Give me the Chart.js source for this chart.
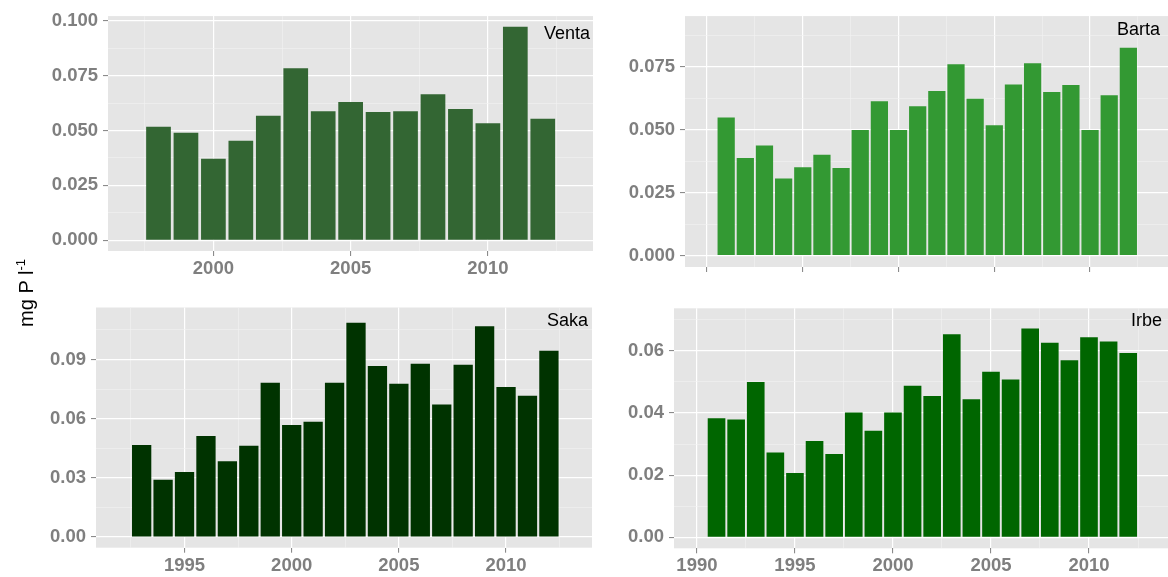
<!DOCTYPE html>
<html>
<head>
<meta charset="utf-8">
<script src="https://cdn.jsdelivr.net/npm/chart.js@4.4.0/dist/chart.umd.min.js"></script>
<style>
  html, body { margin: 0; padding: 0; background: #ffffff; }
  body { width: 1168px; height: 577px; position: relative; overflow: hidden; font-family: "Liberation Sans", Arial, sans-serif; }
  canvas { position: absolute; }
  #ytitle { position: absolute; left: -29px; top: 281px; width: 100px; height: 24px; line-height: 24px; text-align: center;
            transform: rotate(-90deg); font-size: 20px; color: #000; white-space: nowrap; }
  #ytitle sup { font-size: 13px; }
</style>
</head>
<body>
<canvas id="venta" width="600" height="290" style="left:0;top:0"></canvas>
<canvas id="barta" width="568" height="290" style="left:600px;top:0"></canvas>
<canvas id="saka" width="600" height="287" style="left:0;top:290px"></canvas>
<canvas id="irbe" width="568" height="287" style="left:600px;top:290px"></canvas>
<div id="ytitle">mg P l<sup>-1</sup></div>
<script>
// ---- data ----
const ventaYears  = [1998,1999,2000,2001,2002,2003,2004,2005,2006,2007,2008,2009,2010,2011,2012];
const ventaValues = [0.0517,0.0490,0.0371,0.0453,0.0567,0.0784,0.0588,0.0630,0.0584,0.0588,0.0665,0.0598,0.0533,0.0973,0.0553];

const bartaYears  = [1991,1992,1993,1994,1995,1996,1997,1998,1999,2000,2001,2002,2003,2004,2005,2006,2007,2008,2009,2010,2011,2012];
const bartaValues = [0.0548,0.0387,0.0437,0.0306,0.0350,0.0400,0.0347,0.0498,0.0612,0.0498,0.0592,0.0653,0.0759,0.0622,0.0517,0.0679,0.0763,0.0649,0.0677,0.0498,0.0636,0.0824];

const sakaYears  = [1993,1994,1995,1996,1997,1998,1999,2000,2001,2002,2003,2004,2005,2006,2007,2008,2009,2010,2011,2012];
const sakaValues = [0.0466,0.0290,0.0329,0.0512,0.0384,0.0463,0.0782,0.0568,0.0584,0.0782,0.1086,0.0867,0.0777,0.0878,0.0672,0.0873,0.1068,0.0760,0.0716,0.0944];

const irbeYears  = [1991,1992,1993,1994,1995,1996,1997,1998,1999,2000,2001,2002,2003,2004,2005,2006,2007,2008,2009,2010,2011,2012];
const irbeValues = [0.0383,0.0379,0.0499,0.0273,0.0207,0.0310,0.0268,0.0401,0.0343,0.0401,0.0487,0.0454,0.0653,0.0444,0.0532,0.0507,0.0671,0.0625,0.0569,0.0643,0.0629,0.0592];

// ---- ticks ----
const ventaXTicks = [2000, 2005, 2010];
const ventaXMinor = [1997.5, 2002.5, 2007.5, 2012.5];
const ventaYTicks = [0, 0.025, 0.05, 0.075, 0.1];
const ventaYLabels = ["0.000", "0.025", "0.050", "0.075", "0.100"];
const ventaYMinor = [0.0125, 0.0375, 0.0625, 0.0875];

const bartaXTicks = [1990, 1995, 2000, 2005, 2010];
const bartaXMinor = [1992.5, 1997.5, 2002.5, 2007.5, 2012.5];
const bartaYTicks = [0, 0.025, 0.05, 0.075];
const bartaYLabels = ["0.000", "0.025", "0.050", "0.075"];
const bartaYMinor = [0.0125, 0.0375, 0.0625, 0.0875];

const sakaXTicks = [1995, 2000, 2005, 2010];
const sakaXMinor = [1992.5, 1997.5, 2002.5, 2007.5, 2012.5];
const sakaYTicks = [0, 0.03, 0.06, 0.09];
const sakaYLabels = ["0.00", "0.03", "0.06", "0.09"];
const sakaYMinor = [0.015, 0.045, 0.075, 0.105];

const irbeXTicks = [1990, 1995, 2000, 2005, 2010];
const irbeXMinor = [1992.5, 1997.5, 2002.5, 2007.5, 2012.5];
const irbeYTicks = [0, 0.02, 0.04, 0.06];
const irbeYLabels = ["0.00", "0.02", "0.04", "0.06"];
const irbeYMinor = [0.01, 0.03, 0.05, 0.07];

// ---- drawing ----
const FONT = '"Liberation Sans", Arial, sans-serif';
const TICK_GREY = '#7F7F7F';

const bgPlugin = {
  id: 'panelBg',
  beforeDraw(chart) {
    const a = chart.chartArea, ctx = chart.ctx;
    ctx.save();
    ctx.fillStyle = '#E5E5E5';
    ctx.fillRect(a.left, a.top, a.right - a.left, a.bottom - a.top);
    ctx.restore();
  }
};
const labelPlugin = {
  id: 'panelLabel',
  afterDatasetsDraw(chart, args, opts) {
    const a = chart.chartArea, ctx = chart.ctx;
    ctx.save();
    ctx.font = opts.size + 'px ' + FONT;
    ctx.fillStyle = '#000';
    ctx.textAlign = 'right';
    ctx.textBaseline = 'middle';
    ctx.fillText(opts.text, a.right - opts.dx, a.top + opts.dy);
    ctx.restore();
  }
};

function panel(id, o) {
  const majX = new Set(o.xMajor), majY = new Set(o.yMajor);
  const isMaj = (set, ctx) => !!(ctx.tick && set.has(ctx.tick.value));
  const tickList = (maj, min) => [...maj, ...min].sort((a, b) => a - b).map(v => ({ value: v }));
  return new Chart(document.getElementById(id), {
    type: 'bar',
    data: {
      datasets: [{
        data: o.years.map((yr, i) => ({ x: yr, y: o.values[i] })),
        backgroundColor: o.color,
        borderWidth: 0,
        barPercentage: 0.9,
        categoryPercentage: 1
      }]
    },
    options: {
      responsive: false,
      animation: false,
      events: [],
      layout: { autoPadding: false, padding: o.pad },
      plugins: {
        legend: { display: false },
        tooltip: { enabled: false },
        panelLabel: { text: o.name, size: 18, dx: o.labelDx, dy: o.labelDy }
      },
      scales: {
        x: {
          type: 'linear', min: o.xMin, max: o.xMax, offset: false,
          afterBuildTicks: s => { s.ticks = tickList(o.xMajor, o.xMinor); },
          afterFit: s => { s.height = o.xAxisH; },
          ticks: {
            display: o.showX, autoSkip: false, maxRotation: 0, minRotation: 0, padding: 2,
            color: TICK_GREY, font: { family: FONT, size: 18.5, weight: 'bold' },
            callback: v => majX.has(v) ? String(v) : ''
          },
          grid: {
            offset: false,
            color: c => isMaj(majX, c) ? '#FFFFFF' : '#F2F2F2',
            lineWidth: c => isMaj(majX, c) ? 1.2 : 0.6,
            tickColor: c => isMaj(majX, c) ? TICK_GREY : 'rgba(0,0,0,0)',
            tickWidth: 1, tickLength: 5, drawTicks: true
          },
          border: { display: false }
        },
        y: {
          type: 'linear', min: o.yMin, max: o.yMax,
          afterBuildTicks: s => { s.ticks = tickList(o.yMajor, o.yMinor); },
          afterFit: s => { s.width = o.yAxisW; },
          ticks: {
            autoSkip: false, padding: 5,
            color: TICK_GREY, font: { family: FONT, size: 18.5, weight: 'bold' },
            callback: v => majY.has(v) ? o.yLabels[o.yMajor.indexOf(v)] : ''
          },
          grid: {
            offset: false,
            color: c => isMaj(majY, c) ? '#FFFFFF' : '#F2F2F2',
            lineWidth: c => isMaj(majY, c) ? 1.2 : 0.6,
            tickColor: c => isMaj(majY, c) ? TICK_GREY : 'rgba(0,0,0,0)',
            tickWidth: 1, tickLength: 5, drawTicks: true
          },
          border: { display: false }
        }
      }
    },
    plugins: [bgPlugin, labelPlugin]
  });
}

panel('venta', {
  name: 'Venta', years: ventaYears, values: ventaValues, color: '#336633',
  xMajor: ventaXTicks, xMinor: ventaXMinor, yMajor: ventaYTicks, yMinor: ventaYMinor, yLabels: ventaYLabels,
  xMin: 1996.16, xMax: 2013.83, yMin: -0.0049, yMax: 0.1021,
  pad: { top: 11, right: 7, bottom: 0, left: 0 }, yAxisW: 108, xAxisH: 39, showX: true,
  labelDx: 3, labelDy: 17.8
});
panel('barta', {
  name: 'Barta', years: bartaYears, values: bartaValues, color: '#339933',
  xMajor: bartaXTicks, xMinor: bartaXMinor, yMajor: bartaYTicks, yMinor: bartaYMinor, yLabels: bartaYLabels,
  xMin: 1988.85, xMax: 2014.07, yMin: -0.00455, yMax: 0.0950,
  pad: { top: 11, right: 0, bottom: 0, left: 0 }, yAxisW: 85, xAxisH: 23, showX: false,
  labelDx: 8, labelDy: 14
});
panel('saka', {
  name: 'Saka', years: sakaYears, values: sakaValues, color: '#003300',
  xMajor: sakaXTicks, xMinor: sakaXMinor, yMajor: sakaYTicks, yMinor: sakaYMinor, yLabels: sakaYLabels,
  xMin: 1990.87, xMax: 2014.01, yMin: -0.0054, yMax: 0.1163,
  pad: { top: 17.5, right: 8, bottom: 0, left: 0 }, yAxisW: 96, xAxisH: 29.3, showX: true,
  labelDx: 4, labelDy: 13.2
});
panel('irbe', {
  name: 'Irbe', years: irbeYears, values: irbeValues, color: '#006600',
  xMajor: irbeXTicks, xMinor: irbeXMinor, yMajor: irbeYTicks, yMinor: irbeYMinor, yLabels: irbeYLabels,
  xMin: 1988.83, xMax: 2014.03, yMin: -0.0035, yMax: 0.0736,
  pad: { top: 18.3, right: 0, bottom: 0, left: 0 }, yAxisW: 74, xAxisH: 28.7, showX: true,
  labelDx: 6, labelDy: 12.7
});
</script>
</body>
</html>
